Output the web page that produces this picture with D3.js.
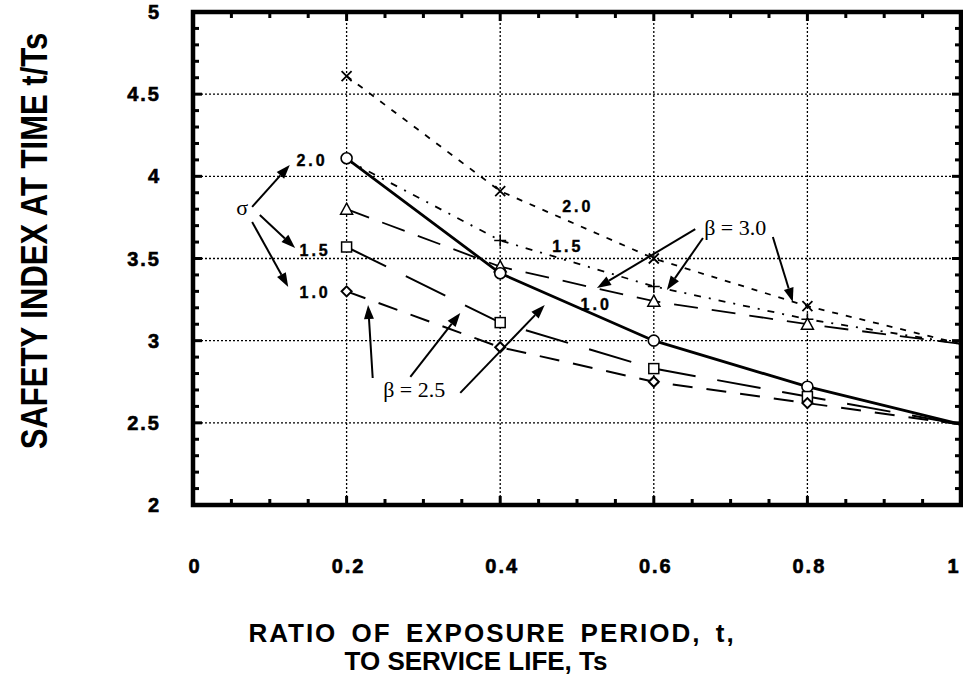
<!DOCTYPE html>
<html>
<head>
<meta charset="utf-8">
<script src="https://cdn.jsdelivr.net/npm/d3@7"></script>
<style>
  html, body { margin: 0; padding: 0; background: #fff; }
  svg { display: block; }
  .tick-label { font-family: "Liberation Sans", Arial, sans-serif; font-weight: bold; font-size: 20px; letter-spacing: 2px; stroke: #000; stroke-width: 0.6px; }
  .title { font-family: "Liberation Sans", Arial, sans-serif; font-weight: bold; }
  .note { font-family: "Liberation Sans", Arial, sans-serif; font-weight: bold; font-size: 16px; letter-spacing: 3px; stroke: #000; stroke-width: 0.4px; }
  .serif { font-family: "Liberation Serif", "Times New Roman", serif; font-size: 22px; }
</style>
</head>
<body>
<svg id="chart" width="963" height="679"></svg>
<script>
// Exposure ratio t/Ts at which the safety index was evaluated
const ratios = [0.2, 0.4, 0.6, 0.8, 1.0];

// Target beta = 3.0
const beta30Sigma20 = [4.61, 3.91, 3.50, 3.21, 2.98];
const beta30Sigma15 = [4.10, 3.61, 3.33, 3.13, 2.98];
const beta30Sigma10 = [3.80, 3.45, 3.24, 3.10, 2.98];
// Target beta = 2.5
const beta25Sigma20 = [4.11, 3.41, 3.00, 2.72, 2.49];
const beta25Sigma15 = [3.57, 3.11, 2.83, 2.66, 2.49];
const beta25Sigma10 = [3.30, 2.96, 2.75, 2.62, 2.49];

// Axis tick labels
const xTickValues = [0, 0.2, 0.4, 0.6, 0.8, 1];
const xTickLabels = ["0", "0.2", "0.4", "0.6", "0.8", "1"];
const yTickValues = [2, 2.5, 3, 3.5, 4, 4.5, 5];
const yTickLabels = ["2", "2.5", "3", "3.5", "4", "4.5", "5"];

// Annotation text placed in data units
const noteLabels = [
  { text: "2.0", x: 0.155, y: 4.06 },
  { text: "1.5", x: 0.159, y: 3.515 },
  { text: "1.0", x: 0.159, y: 3.26 },
  { text: "2.0", x: 0.501, y: 3.783 },
  { text: "1.5", x: 0.488, y: 3.54 },
  { text: "1.0", x: 0.525, y: 3.187 }
];
const serifLabels = [
  { text: "σ", x: 0.064, y: 3.765 },
  { text: "β = 3.0", x: 0.706, y: 3.643 },
  { text: "β = 2.5", x: 0.288, y: 2.657 }
];
// Arrows: [x0, y0, x1 (tip), y1 (tip)] in data units
const arrows = [
  [0.077, 3.814, 0.126, 4.069],
  [0.087, 3.765, 0.133, 3.564],
  [0.077, 3.722, 0.124, 3.327],
  [0.654, 3.679, 0.526, 3.321],
  [0.664, 3.625, 0.617, 3.309],
  [0.755, 3.631, 0.781, 3.236],
  [0.234, 2.773, 0.228, 3.217],
  [0.283, 2.779, 0.348, 3.169],
  [0.348, 2.682, 0.458, 3.217]
];

const series = [
  { values: beta30Sigma20, marker: "x",        dash: "6,8",          width: 1.8, markFrom: 0 },
  { values: beta30Sigma15, marker: "plus",     dash: "7,8,2,8",      width: 1.8, markFrom: 1 },
  { values: beta30Sigma10, marker: "triangle", dash: "24,14",        width: 1.8, markFrom: 0 },
  { values: beta25Sigma20, marker: "circle",   dash: null,           width: 2.8, markFrom: 0 },
  { values: beta25Sigma15, marker: "square",   dash: "44,22",        width: 2.0, markFrom: 0 },
  { values: beta25Sigma10, marker: "diamond",  dash: "20,14",        width: 2.0, markFrom: 0 }
];

const svg = d3.select("#chart");
const x = d3.scaleLinear().domain([0, 1]).range([193, 961]);
const y = d3.scaleLinear().domain([2, 5]).range([505, 12]);

// Dotted grid
const grid = svg.append("g").attr("stroke", "#000").attr("stroke-width", 1.3).attr("stroke-dasharray", "2,2");
[0.2, 0.4, 0.6, 0.8].forEach(v => grid.append("line")
  .attr("x1", x(v)).attr("x2", x(v)).attr("y1", y(2)).attr("y2", y(5)));
[2.5, 3, 3.5, 4, 4.5].forEach(v => grid.append("line")
  .attr("x1", x(0)).attr("x2", x(1)).attr("y1", y(v)).attr("y2", y(v)));

// Inward ticks on all four sides
const ticks = svg.append("g").attr("stroke", "#000").attr("stroke-width", 3);
d3.range(0, 1.0001, 0.05).forEach(v => {
  const major = Math.abs(v * 5 - Math.round(v * 5)) < 1e-6;
  const len = major ? 9 : 6;
  ticks.append("line").attr("x1", x(v)).attr("x2", x(v)).attr("y1", y(2)).attr("y2", y(2) - len);
  ticks.append("line").attr("x1", x(v)).attr("x2", x(v)).attr("y1", y(5)).attr("y2", y(5) + len);
});
d3.range(2, 5.0001, 0.1).forEach(v => {
  const major = Math.abs(v * 2 - Math.round(v * 2)) < 1e-6;
  const len = major ? 9 : 6;
  ticks.append("line").attr("x1", x(0)).attr("x2", x(0) + len).attr("y1", y(v)).attr("y2", y(v));
  ticks.append("line").attr("x1", x(1)).attr("x2", x(1) - len).attr("y1", y(v)).attr("y2", y(v));
});

// Series lines
const line = d3.line().x(d => x(d[0])).y(d => y(d[1]));
series.forEach(s => {
  svg.append("path")
    .datum(ratios.map((r, i) => [r, s.values[i]]))
    .attr("d", line)
    .attr("fill", "none")
    .attr("stroke", "#000")
    .attr("stroke-width", s.width)
    .attr("stroke-dasharray", s.dash);
});

// Markers at the evaluated ratios (not at the t = Ts end point)
function drawMarker(g, type, cx, cy) {
  if (type === "circle") {
    g.append("circle").attr("cx", cx).attr("cy", cy).attr("r", 5.5)
      .attr("fill", "#fff").attr("stroke", "#000").attr("stroke-width", 1.6);
  } else if (type === "square") {
    g.append("rect").attr("x", cx - 5).attr("y", cy - 5).attr("width", 10).attr("height", 10)
      .attr("fill", "#fff").attr("stroke", "#000").attr("stroke-width", 1.5);
  } else if (type === "triangle") {
    g.append("path").attr("d", `M${cx},${cy - 6}L${cx + 6},${cy + 5}L${cx - 6},${cy + 5}Z`)
      .attr("fill", "#fff").attr("stroke", "#000").attr("stroke-width", 1.5);
  } else if (type === "diamond") {
    g.append("path").attr("d", `M${cx},${cy - 5}L${cx + 5},${cy}L${cx},${cy + 5}L${cx - 5},${cy}Z`)
      .attr("fill", "#fff").attr("stroke", "#000").attr("stroke-width", 2);
  } else if (type === "x") {
    g.append("path").attr("d", `M${cx - 5},${cy - 5}L${cx + 5},${cy + 5}M${cx - 5},${cy + 5}L${cx + 5},${cy - 5}`)
      .attr("stroke", "#000").attr("stroke-width", 1.8);
  } else if (type === "plus") {
    g.append("path").attr("d", `M${cx - 6},${cy}L${cx + 6},${cy}M${cx},${cy - 6}L${cx},${cy + 6}`)
      .attr("stroke", "#000").attr("stroke-width", 1.5);
  }
}
const markers = svg.append("g");
series.forEach(s => {
  ratios.forEach((r, i) => {
    if (i < s.markFrom || r >= 1) return;
    drawMarker(markers, s.marker, x(r), y(s.values[i]));
  });
});

// Frame
svg.append("rect")
  .attr("x", x(0)).attr("y", y(5))
  .attr("width", x(1) - x(0)).attr("height", y(2) - y(5))
  .attr("fill", "none").attr("stroke", "#000").attr("stroke-width", 4.5);

// Tick labels
svg.append("g").selectAll("text").data(xTickValues).join("text")
  .attr("class", "tick-label")
  .attr("x", d => Math.min(x(d) + 2, 954)).attr("y", 573)
  .attr("text-anchor", "middle")
  .text((d, i) => xTickLabels[i]);
svg.append("g").selectAll("text").data(yTickValues).join("text")
  .attr("class", "tick-label")
  .attr("x", 161).attr("y", d => y(d) + 7)
  .attr("text-anchor", "end")
  .text((d, i) => yTickLabels[i]);

// Axis titles
svg.append("text").attr("class", "title")
  .attr("transform", "translate(47,241) rotate(-90) scale(0.84,1)")
  .attr("text-anchor", "middle")
  .attr("font-size", 37)
  .text("SAFETY INDEX AT TIME t/Ts");
svg.append("text").attr("class", "title")
  .attr("x", 492).attr("y", 642).attr("text-anchor", "middle")
  .attr("font-size", 26).attr("word-spacing", 5).attr("letter-spacing", 2)
  .text("RATIO OF EXPOSURE PERIOD, t,");
svg.append("text").attr("class", "title")
  .attr("x", 476).attr("y", 670).attr("text-anchor", "middle")
  .attr("font-size", 26)
  .text("TO SERVICE LIFE, Ts");

// Annotations
svg.append("g").selectAll("text").data(noteLabels).join("text")
  .attr("class", "note")
  .attr("x", d => x(d.x)).attr("y", d => y(d.y))
  .attr("text-anchor", "middle")
  .text(d => d.text);
svg.append("g").selectAll("text").data(serifLabels).join("text")
  .attr("class", "serif")
  .attr("x", d => x(d.x)).attr("y", d => y(d.y))
  .attr("text-anchor", "middle")
  .text(d => d.text);

const arrowG = svg.append("g");
arrows.forEach(a => {
  const x0 = x(a[0]), y0 = y(a[1]), x1 = x(a[2]), y1 = y(a[3]);
  const ang = Math.atan2(y1 - y0, x1 - x0);
  const hl = 14, hw = 5;
  const bx = x1 - hl * Math.cos(ang), by = y1 - hl * Math.sin(ang);
  arrowG.append("line").attr("x1", x0).attr("y1", y0).attr("x2", bx).attr("y2", by)
    .attr("stroke", "#000").attr("stroke-width", 2);
  const px = -Math.sin(ang) * hw, py = Math.cos(ang) * hw;
  arrowG.append("path")
    .attr("d", `M${x1},${y1}L${bx + px},${by + py}L${bx - px},${by - py}Z`)
    .attr("fill", "#000");
});
</script>
</body>
</html>
